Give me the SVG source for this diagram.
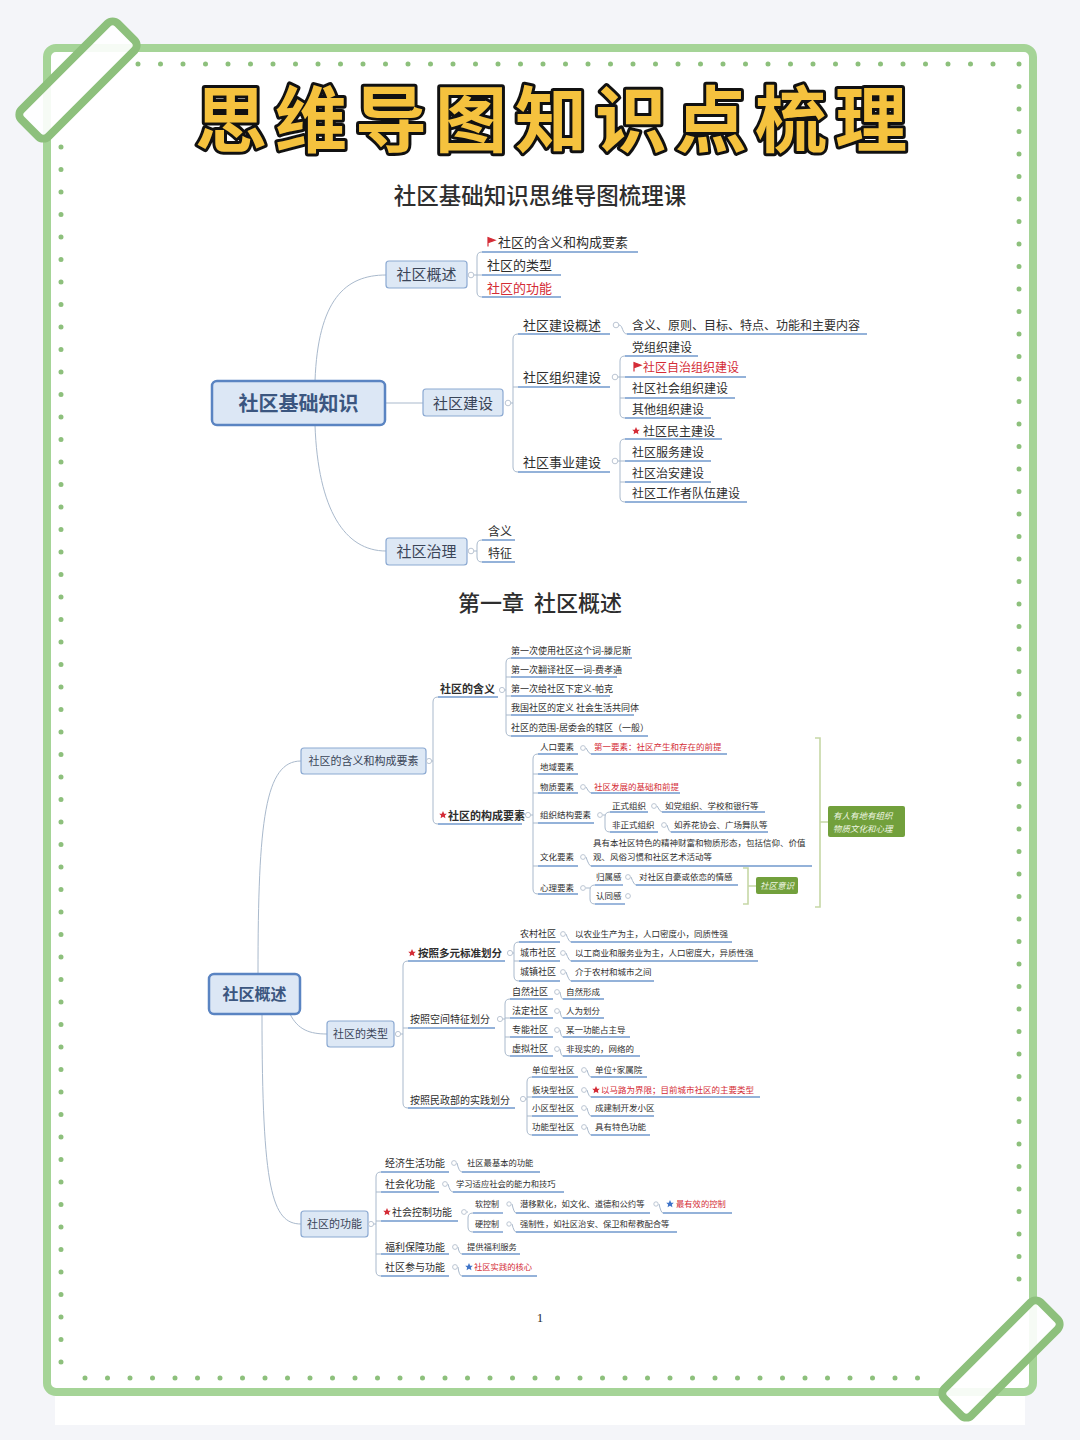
<svg xmlns="http://www.w3.org/2000/svg" xmlns:xlink="http://www.w3.org/1999/xlink" width="1080" height="1440" viewBox="0 0 1080 1440">
<style>
text{font-family:"Noto Sans CJK SC","Noto Sans",sans-serif;fill:#2e2e2e}
.b{font-weight:bold}
.r{fill:#d42c36}
.bx{fill:#dde8f5;stroke:#8ba9d2;stroke-width:1.2}
.rt{fill:#dce7f5;stroke:#5a84c2;stroke-width:2.5}
.bt{fill:#3a4558}
.ul{stroke:#7199cd;stroke-width:1.4;fill:none}
.ln{fill:none;stroke:#a9b9cc;stroke-width:1}
.c{fill:#fff;stroke:#b4c0ce;stroke-width:0.9}
.gb{fill:none;stroke:#c6d7a6;stroke-width:1.6}
.gx{fill:#72a03c}
.gt{fill:#eef5e2;font-style:italic}
.dots{stroke:#8dc07c;stroke-width:5;stroke-linecap:round;stroke-dasharray:0 22.5;fill:none}
.tape{fill:#fff;fill-opacity:0.9;stroke:#8dc07c;stroke-width:8}
</style>
<defs>
<path id="star" d="M0,-4 L1.2,-1.3 L3.8,-1.2 L1.9,0.5 L2.4,3.2 L0,1.7 L-2.4,3.2 L-1.9,0.5 L-3.8,-1.2 L-1.2,-1.3Z"/>
<path id="flag" d="M0,4.5 V-4.5 L7,-1.8 L0,0.8" stroke="#d42c36" stroke-width="1.2" fill="#d42c36"/>
</defs>
<rect width="1080" height="1440" fill="#f4f5f9"/>
<rect x="55" y="1390" width="970" height="35" fill="#fff"/>
<rect x="47" y="48" width="986" height="1344" rx="9" fill="#fff" stroke="#a5d497" stroke-width="8"/>
<path class="dots" d="M138,64 H1000 M1019,64 V1295 M61,147 V1365 M85,1378 H940"/>
<g transform="translate(78,80) rotate(-45)"><rect class="tape" x="-68" y="-19" width="136" height="38" rx="7"/></g>
<g transform="translate(1001,1359) rotate(-45)"><rect class="tape" x="-68" y="-19" width="136" height="38" rx="7"/></g>

<text x="555" y="146" text-anchor="middle" font-size="72" font-weight="700" letter-spacing="8" style="fill:#f5c23e;stroke:#111;stroke-width:6;stroke-linejoin:round;paint-order:stroke">思维导图知识点梳理</text>
<text x="540" y="204" text-anchor="middle" font-size="22.5" font-weight="500">社区基础知识思维导图梳理课</text>
<text x="540" y="611" text-anchor="middle" font-size="22" font-weight="500" xml:space="preserve">第一章  社区概述</text>
<text x="540" y="1322" text-anchor="middle" font-size="13" style="font-family:'Liberation Serif',serif">1</text>

<g id="connectors">
<path class="ln" d="M315,381 C318,300 345,275 386,275 M315,425 C318,510 345,551 386,551 M385,403 H423"/>
<path class="ln" d="M474,275 H482 M482,252 Q477,252 477,257 V292 Q477,297 482,297"/>
<path class="ln" d="M511,403 H513 M518,334 Q513,334 513,339 V467 Q513,472 518,472 M513,387 H518"/>
<path class="ln" d="M619,325 C623,325 622,334 627,334"/>
<path class="ln" d="M618,377 H625 M625,356 Q620,356 620,361 V413 Q620,418 625,418 M620,398 H625"/>
<path class="ln" d="M618,461 H625 M625,439 Q620,439 620,444 V497 Q620,502 625,502 M620,482 H625"/>
<path class="ln" d="M474,551 H477 M482,540 Q477,540 477,545 V557 Q477,562 482,562"/>
<path class="ln" d="M258,974 C258,820 265,761 301,761 M262,1014 C262,1190 272,1224 301,1224 M290,1014 C298,1030 310,1034 327,1034"/>
<path class="ln" d="M432,761 H433 M438,697 Q433,697 433,702 V819 Q433,824 438,824"/>
<path class="ln" d="M505,690 H506 M511,658 Q506,658 506,663 V731 Q506,736 511,736 M506,677 H511 M506,696 H511 M506,715 H511"/>
<path class="ln" d="M531,815 H533 M538,754 Q533,754 533,759 V889 Q533,894 538,894 M533,774 H538 M533,793 H538 M533,823 H538 M533,866 H538"/>
<path class="ln" d="M586,748 Q589,754 591,754 M586,787 Q589,793 591,793 M586,857 Q589,866 591,866"/>
<path class="ln" d="M603,815 H605 M610,812 Q605,812 605,817 V827 Q605,832 610,832"/>
<path class="ln" d="M657,806 Q660,812 662,812 M667,825 Q669,832 671,832"/>
<path class="ln" d="M586,888 H590 M595,885 Q590,885 590,890 V899 Q590,904 595,904 M631,877 Q634,885 636,885"/>
<path class="ln" d="M401,1034 H403 M408,961 Q403,961 403,966 V1103 Q403,1108 408,1108 M403,1028 H408"/>
<path class="ln" d="M513,953 H514 M519,942 Q514,942 514,947 V976 Q514,981 519,981 M514,961 H519"/>
<path class="ln" d="M566,934 Q569,942 571,942 M566,953 Q569,961 571,961 M566,972 Q569,981 571,981"/>
<path class="ln" d="M503,1019 H505 M510,999 Q505,999 505,1004 V1051 Q505,1056 510,1056 M505,1018 H510 M505,1037 H510"/>
<path class="ln" d="M560,992 Q561,999 563,999 M560,1011 Q561,1018 563,1018 M560,1030 Q561,1037 563,1037 M560,1049 Q561,1056 563,1056"/>
<path class="ln" d="M526,1099 H527 M532,1077 Q527,1077 527,1082 V1130 Q527,1135 532,1135 M527,1097 H532 M527,1116 H532"/>
<path class="ln" d="M587,1070 Q589,1077 591,1077 M587,1090 Q589,1097 591,1097 M587,1108 Q589,1116 591,1116 M587,1127 Q589,1135 591,1135"/>
<path class="ln" d="M374,1224 H376 M381,1172 Q376,1172 376,1177 V1271 Q376,1276 381,1276 M376,1192 H381 M376,1221 H381 M376,1254 H381"/>
<path class="ln" d="M457,1163 Q459,1172 462,1172 M448,1184 Q450,1192 453,1192 M458,1247 Q459,1254 462,1254 M458,1267 Q459,1276 462,1276"/>
<path class="ln" d="M467,1212 H468 M473,1213 Q468,1213 468,1218 V1227 Q468,1232 473,1232"/>
<path class="ln" d="M512,1204 Q514,1213 516,1213 M512,1224 Q514,1232 516,1232 M659,1204 Q661,1213 663,1213"/>
</g>

<g id="root1"><rect class="rt" x="212" y="381" width="173" height="44" rx="5"/><text class="b" x="298.5" y="411" text-anchor="middle" font-size="20" style="fill:#3b5680">社区基础知识</text></g>

<g id="n-gaishu"><rect class="bx" x="386" y="261" width="81" height="27" rx="3"/><text class="bt" x="426.5" y="280" text-anchor="middle" font-size="15">社区概述</text><circle class="c" cx="471" cy="275" r="2.8"/></g>
<g id="n-hanyi1"><use href="#flag" x="488" y="242"/><text x="498" y="247" font-size="13">社区的含义和构成要素</text><path class="ul" d="M482,252 H638"/></g>
<g id="n-leixing1"><text x="487" y="270" font-size="13">社区的类型</text><path class="ul" d="M482,275 H561"/></g>
<g id="n-gongneng1"><text class="r" x="487" y="293" font-size="13">社区的功能</text><path class="ul" d="M482,297 H561"/></g>

<g id="n-jianshe"><rect class="bx" x="423" y="389" width="80" height="27" rx="3"/><text class="bt" x="463" y="408.5" text-anchor="middle" font-size="15">社区建设</text><circle class="c" cx="508" cy="403" r="2.8"/></g>
<g id="n-js-gs"><text x="523" y="330" font-size="13">社区建设概述</text><path class="ul" d="M518,334 H610"/><circle class="c" cx="616" cy="325" r="2.8"/></g>
<g id="n-js-gs-d"><text x="632" y="329.5" font-size="12">含义、原则、目标、特点、功能和主要内容</text><path class="ul" d="M627,334 H867"/></g>
<g id="n-js-zz"><text x="523" y="382" font-size="13">社区组织建设</text><path class="ul" d="M518,387 H610"/><circle class="c" cx="615" cy="377" r="2.8"/></g>
<g id="n-dang"><text x="632" y="351.5" font-size="12">党组织建设</text><path class="ul" d="M625,356 H698"/></g>
<g id="n-zizhi"><use href="#flag" x="634" y="367"/><text class="r" x="643" y="371.5" font-size="12">社区自治组织建设</text><path class="ul" d="M625,377 H746"/></g>
<g id="n-shehui"><text x="632" y="392.5" font-size="12">社区社会组织建设</text><path class="ul" d="M625,398 H735"/></g>
<g id="n-qita"><text x="632" y="413.5" font-size="12">其他组织建设</text><path class="ul" d="M625,418 H711"/></g>
<g id="n-js-sy"><text x="523" y="466.5" font-size="13">社区事业建设</text><path class="ul" d="M518,472 H610"/><circle class="c" cx="615" cy="461" r="2.8"/></g>
<g id="n-minzhu"><use href="#star" x="636" y="431" fill="#d42c36"/><text x="643" y="435.5" font-size="12">社区民主建设</text><path class="ul" d="M625,439 H722"/></g>
<g id="n-fuwu"><text x="632" y="456.5" font-size="12">社区服务建设</text><path class="ul" d="M625,461 H711"/></g>
<g id="n-zhian"><text x="632" y="477.5" font-size="12">社区治安建设</text><path class="ul" d="M625,482 H711"/></g>
<g id="n-duiwu"><text x="632" y="497.5" font-size="12">社区工作者队伍建设</text><path class="ul" d="M625,502 H747"/></g>

<g id="n-zhili"><rect class="bx" x="386" y="538" width="81" height="27" rx="3"/><text class="bt" x="426.5" y="557" text-anchor="middle" font-size="15">社区治理</text><circle class="c" cx="471" cy="551" r="2.8"/></g>
<g id="n-zl-hy"><text x="488" y="535.5" font-size="12">含义</text><path class="ul" d="M482,540 H515"/></g>
<g id="n-zl-tz"><text x="488" y="557.5" font-size="12">特征</text><path class="ul" d="M482,562 H515"/></g>

<g id="root2"><rect class="rt" x="209" y="974" width="91" height="40" rx="5"/><text class="b" x="254.5" y="1000" text-anchor="middle" font-size="16" style="fill:#3b5680">社区概述</text></g>

<g id="m-hanyi"><rect class="bx" x="301" y="748" width="125" height="26" rx="3"/><text class="bt" x="363.5" y="765" text-anchor="middle" font-size="11">社区的含义和构成要素</text><circle class="c" cx="429" cy="761" r="2.6"/></g>
<g id="m-hy"><text class="b" x="440" y="693" font-size="11">社区的含义</text><path class="ul" d="M438,697 H498"/><circle class="c" cx="502" cy="690" r="2.6"/></g>
<g id="m-hy1"><text x="511" y="653.5" font-size="9">第一次使用社区这个词-滕尼斯</text><path class="ul" d="M511,658 H632"/></g>
<g id="m-hy2"><text x="511" y="673" font-size="9">第一次翻译社区一词-费孝通</text><path class="ul" d="M511,677 H617"/></g>
<g id="m-hy3"><text x="511" y="691.5" font-size="9">第一次给社区下定义-帕克</text><path class="ul" d="M511,696 H610"/></g>
<g id="m-hy4"><text x="511" y="711" font-size="9" xml:space="preserve">我国社区的定义 社会生活共同体</text><path class="ul" d="M511,715 H634"/></g>
<g id="m-hy5"><text x="511" y="731" font-size="9">社区的范围-居委会的辖区（一般）</text><path class="ul" d="M511,736 H648"/></g>

<g id="m-gc"><use href="#star" x="443" y="815" fill="#d42c36"/><text class="b" x="448" y="820" font-size="11">社区的构成要素</text><path class="ul" d="M438,824 H522"/><circle class="c" cx="528" cy="815" r="2.6"/></g>
<g id="m-renkou"><text x="540" y="750" font-size="8.5">人口要素</text><path class="ul" d="M538,754 H578"/><circle class="c" cx="583" cy="748" r="2.4"/></g>
<g id="m-renkou-d"><text class="r" x="594" y="750" font-size="8.5">第一要素：社区产生和存在的前提</text><path class="ul" d="M591,754 H727"/></g>
<g id="m-diyu"><text x="540" y="770" font-size="8.5">地域要素</text><path class="ul" d="M538,774 H578"/></g>
<g id="m-wuzhi"><text x="540" y="790" font-size="8.5">物质要素</text><path class="ul" d="M538,793 H578"/><circle class="c" cx="583" cy="787" r="2.4"/></g>
<g id="m-wuzhi-d"><text class="r" x="594" y="790" font-size="8.5">社区发展的基础和前提</text><path class="ul" d="M591,793 H680"/></g>
<g id="m-zuzhi"><text x="540" y="818" font-size="8.5">组织结构要素</text><path class="ul" d="M538,823 H594"/><circle class="c" cx="600" cy="815" r="2.4"/></g>
<g id="m-zhengshi"><text x="612" y="809" font-size="8.5">正式组织</text><path class="ul" d="M610,812 H648"/><circle class="c" cx="654" cy="806" r="2.4"/></g>
<g id="m-zhengshi-d"><text x="665" y="809" font-size="8.5">如党组织、学校和银行等</text><path class="ul" d="M662,812 H765"/></g>
<g id="m-feizs"><text x="612" y="828" font-size="8.5">非正式组织</text><path class="ul" d="M610,832 H658"/><circle class="c" cx="664" cy="825" r="2.4"/></g>
<g id="m-feizs-d"><text x="674" y="828" font-size="8.5">如养花协会、广场舞队等</text><path class="ul" d="M671,832 H768"/></g>
<g id="m-wenhua"><text x="540" y="860" font-size="8.5">文化要素</text><path class="ul" d="M538,866 H578"/><circle class="c" cx="583" cy="857" r="2.4"/></g>
<g id="m-wenhua-d"><text x="593" y="846" font-size="8.5">具有本社区特色的精神财富和物质形态，包括信仰、价值</text><text x="593" y="860" font-size="8.5">观、风俗习惯和社区艺术活动等</text><path class="ul" d="M591,866 H812"/></g>
<g id="m-xinli"><text x="540" y="891" font-size="8.5">心理要素</text><path class="ul" d="M538,894 H578"/><circle class="c" cx="583" cy="888" r="2.4"/></g>
<g id="m-guishu"><text x="596" y="880" font-size="8.5">归属感</text><path class="ul" d="M595,885 H623"/><circle class="c" cx="628" cy="877" r="2.4"/></g>
<g id="m-guishu-d"><text x="639" y="880" font-size="8.5">对社区自豪或依恋的情感</text><path class="ul" d="M636,885 H738"/></g>
<g id="m-rentong"><text x="596" y="899" font-size="8.5">认同感</text><path class="ul" d="M595,904 H625"/><circle class="c" cx="628" cy="896" r="2.4"/></g>
<g id="m-yishi"><path class="gb" d="M743,868 H748 V904 H743 M748,886 H756"/><rect class="gx" x="756" y="877" width="42" height="17" rx="2"/><text class="gt" x="777" y="889" text-anchor="middle" font-size="8.5">社区意识</text></g>
<g id="m-summary"><path class="gb" d="M815,738 H820 V907 H815 M820,822 H828"/><rect class="gx" x="828" y="806" width="77" height="31" rx="2"/><text class="gt" x="833" y="819" font-size="8.5">有人有地有组织</text><text class="gt" x="833" y="832" font-size="8.5">物质文化和心理</text></g>

<g id="m-leixing"><rect class="bx" x="327" y="1021" width="67" height="26" rx="3"/><text class="bt" x="360.5" y="1038" text-anchor="middle" font-size="11">社区的类型</text><circle class="c" cx="398" cy="1034" r="2.6"/></g>
<g id="m-duoyuan"><use href="#star" x="412" y="953" fill="#d42c36"/><text class="b" x="418" y="957" font-size="10.5">按照多元标准划分</text><path class="ul" d="M408,961 H505"/><circle class="c" cx="510" cy="953" r="2.6"/></g>
<g id="m-nongcun"><text x="520" y="937" font-size="9">农村社区</text><path class="ul" d="M519,942 H560"/><circle class="c" cx="563" cy="934" r="2.4"/></g>
<g id="m-nongcun-d"><text x="575" y="937" font-size="8.5">以农业生产为主，人口密度小，同质性强</text><path class="ul" d="M571,942 H732"/></g>
<g id="m-chengshi"><text x="520" y="956" font-size="9">城市社区</text><path class="ul" d="M519,961 H560"/><circle class="c" cx="563" cy="953" r="2.4"/></g>
<g id="m-chengshi-d"><text x="575" y="956" font-size="8.5">以工商业和服务业为主，人口密度大，异质性强</text><path class="ul" d="M571,961 H758"/></g>
<g id="m-chengzhen"><text x="520" y="975" font-size="9">城镇社区</text><path class="ul" d="M519,981 H560"/><circle class="c" cx="563" cy="972" r="2.4"/></g>
<g id="m-chengzhen-d"><text x="575" y="975" font-size="8.5">介于农村和城市之间</text><path class="ul" d="M571,981 H654"/></g>

<g id="m-kongjian"><text x="410" y="1023" font-size="10">按照空间特征划分</text><path class="ul" d="M408,1028 H495"/><circle class="c" cx="500" cy="1019" r="2.6"/></g>
<g id="m-ziran"><text x="512" y="995" font-size="9">自然社区</text><path class="ul" d="M510,999 H553"/><circle class="c" cx="557" cy="992" r="2.4"/></g>
<g id="m-ziran-d"><text x="566" y="995" font-size="8.5">自然形成</text><path class="ul" d="M563,999 H604"/></g>
<g id="m-fading"><text x="512" y="1014" font-size="9">法定社区</text><path class="ul" d="M510,1018 H553"/><circle class="c" cx="557" cy="1011" r="2.4"/></g>
<g id="m-fading-d"><text x="566" y="1014" font-size="8.5">人为划分</text><path class="ul" d="M563,1018 H604"/></g>
<g id="m-zhuanneng"><text x="512" y="1033" font-size="9">专能社区</text><path class="ul" d="M510,1037 H553"/><circle class="c" cx="557" cy="1030" r="2.4"/></g>
<g id="m-zhuanneng-d"><text x="566" y="1033" font-size="8.5">某一功能占主导</text><path class="ul" d="M563,1037 H630"/></g>
<g id="m-xuni"><text x="512" y="1052" font-size="9">虚拟社区</text><path class="ul" d="M510,1056 H553"/><circle class="c" cx="557" cy="1049" r="2.4"/></g>
<g id="m-xuni-d"><text x="566" y="1052" font-size="8.5">非现实的，网络的</text><path class="ul" d="M563,1056 H640"/></g>

<g id="m-minzheng"><text x="410" y="1104" font-size="10">按照民政部的实践划分</text><path class="ul" d="M408,1108 H515"/><circle class="c" cx="523" cy="1099" r="2.6"/></g>
<g id="m-danwei"><text x="532" y="1073" font-size="8.5">单位型社区</text><path class="ul" d="M532,1077 H578"/><circle class="c" cx="584" cy="1070" r="2.4"/></g>
<g id="m-danwei-d"><text x="595" y="1073" font-size="8.5">单位+家属院</text><path class="ul" d="M591,1077 H647"/></g>
<g id="m-bankuai"><text x="532" y="1093" font-size="8.5">板块型社区</text><path class="ul" d="M532,1097 H578"/><circle class="c" cx="584" cy="1090" r="2.4"/></g>
<g id="m-bankuai-d"><use href="#star" x="596" y="1090" fill="#d42c36"/><text class="r" x="601" y="1093" font-size="8.5">以马路为界限；目前城市社区的主要类型</text><path class="ul" d="M591,1097 H760"/></g>
<g id="m-xiaoqu"><text x="532" y="1111" font-size="8.5">小区型社区</text><path class="ul" d="M532,1116 H578"/><circle class="c" cx="584" cy="1108" r="2.4"/></g>
<g id="m-xiaoqu-d"><text x="595" y="1111" font-size="8.5">成建制开发小区</text><path class="ul" d="M591,1116 H654"/></g>
<g id="m-gongnengxing"><text x="532" y="1130" font-size="8.5">功能型社区</text><path class="ul" d="M532,1135 H578"/><circle class="c" cx="584" cy="1127" r="2.4"/></g>
<g id="m-gongnengxing-d"><text x="595" y="1130" font-size="8.5">具有特色功能</text><path class="ul" d="M591,1135 H650"/></g>

<g id="m-gongneng"><rect class="bx" x="301" y="1211" width="67" height="26" rx="3"/><text class="bt" x="334.5" y="1228" text-anchor="middle" font-size="11">社区的功能</text><circle class="c" cx="371" cy="1224" r="2.6"/></g>
<g id="m-jingji"><text x="385" y="1166.5" font-size="10">经济生活功能</text><path class="ul" d="M381,1172 H449"/><circle class="c" cx="454" cy="1163" r="2.4"/></g>
<g id="m-jingji-d"><text x="467" y="1166" font-size="8.3">社区最基本的功能</text><path class="ul" d="M462,1172 H540"/></g>
<g id="m-shehuihua"><text x="385" y="1188" font-size="10">社会化功能</text><path class="ul" d="M381,1192 H439"/><circle class="c" cx="445" cy="1184" r="2.4"/></g>
<g id="m-shehuihua-d"><text x="456" y="1187" font-size="8.3">学习适应社会的能力和技巧</text><path class="ul" d="M453,1192 H564"/></g>
<g id="m-kongzhi"><use href="#star" x="387" y="1212" fill="#d42c36"/><text x="392" y="1216" font-size="10">社会控制功能</text><path class="ul" d="M381,1221 H458"/><circle class="c" cx="464" cy="1212" r="2.4"/></g>
<g id="m-ruan"><text x="475" y="1207" font-size="8">软控制</text><path class="ul" d="M473,1213 H503"/><circle class="c" cx="509" cy="1204" r="2.2"/></g>
<g id="m-ruan-d"><text x="520" y="1207" font-size="8.3">潜移默化，如文化、道德和公约等</text><path class="ul" d="M516,1213 H650"/><circle class="c" cx="656" cy="1204" r="2.2"/></g>
<g id="m-ruan-d2"><use href="#star" x="670" y="1204" fill="#3f74c8"/><text class="r" x="676" y="1207" font-size="8.3">最有效的控制</text><path class="ul" d="M663,1213 H732"/></g>
<g id="m-ying"><text x="475" y="1227" font-size="8">硬控制</text><path class="ul" d="M473,1232 H503"/><circle class="c" cx="509" cy="1224" r="2.2"/></g>
<g id="m-ying-d"><text x="520" y="1227" font-size="8.3">强制性，如社区治安、保卫和帮教配合等</text><path class="ul" d="M516,1232 H677"/></g>
<g id="m-fuli"><text x="385" y="1250.5" font-size="10">福利保障功能</text><path class="ul" d="M381,1254 H449"/><circle class="c" cx="455" cy="1247" r="2.4"/></g>
<g id="m-fuli-d"><text x="467" y="1250" font-size="8.3">提供福利服务</text><path class="ul" d="M462,1254 H520"/></g>
<g id="m-canyu"><text x="385" y="1270.5" font-size="10">社区参与功能</text><path class="ul" d="M381,1276 H449"/><circle class="c" cx="455" cy="1267" r="2.4"/></g>
<g id="m-canyu-d"><use href="#star" x="469" y="1267" fill="#3f74c8"/><text class="r" x="474" y="1270" font-size="8.3">社区实践的核心</text><path class="ul" d="M462,1276 H537"/></g>
</svg>
